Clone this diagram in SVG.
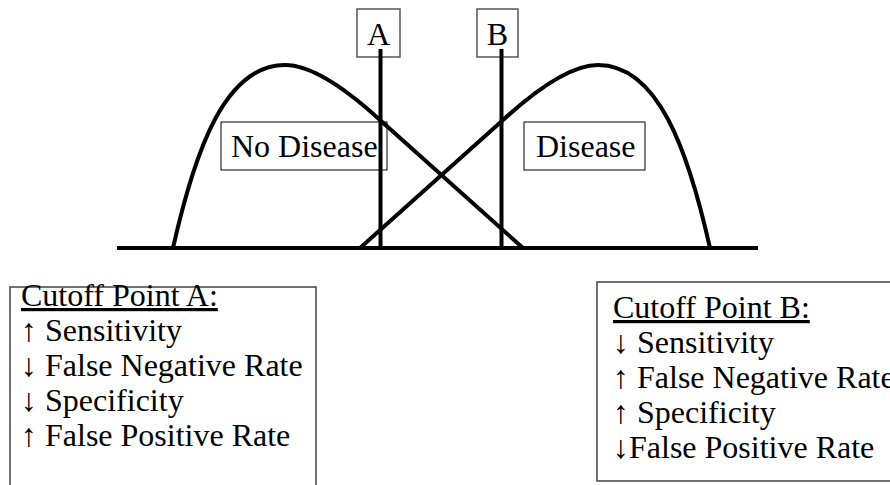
<svg xmlns="http://www.w3.org/2000/svg" width="890" height="485" viewBox="0 0 890 485">
<style>
text{font-family:"Liberation Serif","Times New Roman",serif;fill:#000;font-size:32px}
.thick{fill:none;stroke:#000;stroke-width:4}
.lbl{fill:#fff;stroke:#555;stroke-width:1.5}
.box{fill:#fff;stroke:#000;stroke-width:1}
.panel{fill:#fff;stroke:#444;stroke-width:1.5}
.u{text-decoration:underline}
</style>
<rect width="890" height="485" fill="#fff"/>
<g id="cutoff-A-label"><rect class="lbl" x="357" y="9" width="43" height="48"/><text x="378.5" y="45" text-anchor="middle" font-size="30">A</text></g>
<g id="cutoff-B-label"><rect class="lbl" x="477" y="9" width="41" height="48"/><text x="497.5" y="45" text-anchor="middle" font-size="30">B</text></g>
<g id="no-disease-label"><rect class="box" x="221" y="122" width="166" height="48"/><text x="231" y="157">No Disease</text></g>
<g id="disease-label"><rect class="box" x="524" y="122" width="121" height="48"/><text x="536" y="157">Disease</text></g>
<g id="curves">
<path class="thick" d="M173,248 C195,150 225,65 285,65 C310,65 345,88 380,120 L523,248"/>
<path class="thick" d="M710,248 C688,150 658,65 598,65 C573,65 538,88 503,120 L360,248"/>
</g>
<g id="connectors">
<line class="thick" x1="117" y1="248" x2="758" y2="248"/>
<line class="thick" x1="380.5" y1="49" x2="380.5" y2="248"/>
<line class="thick" x1="501.5" y1="49" x2="501.5" y2="248"/>
</g>
<g id="panel-A"><rect class="panel" x="10" y="287" width="306" height="210"/>
<text x="21" y="306"><tspan class="u">Cutoff Point A:</tspan></text>
<text x="21" y="341">↑ Sensitivity</text>
<text x="21" y="376">↓ False Negative Rate</text>
<text x="21" y="411">↓ Specificity</text>
<text x="21" y="446">↑ False Positive Rate</text>
</g>
<g id="panel-B"><rect class="panel" x="597" y="282" width="300" height="199"/>
<text x="613" y="318"><tspan class="u">Cutoff Point B:</tspan></text>
<text x="613" y="353">↓ Sensitivity</text>
<text x="613" y="388">↑ False Negative Rate</text>
<text x="613" y="423">↑ Specificity</text>
<text x="613" y="458">↓False Positive Rate</text>
</g>
</svg>
